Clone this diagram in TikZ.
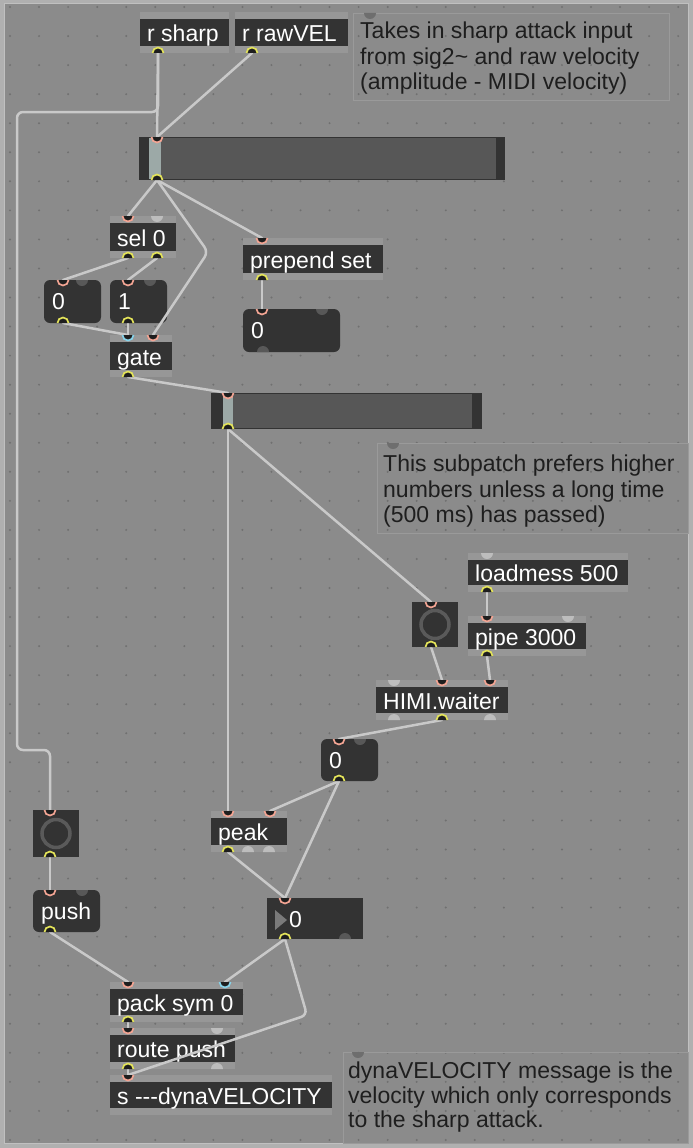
\documentclass[tikz,border=0pt]{standalone}
\usepackage{fontspec}
\newfontfamily\maxf{Liberation Sans}
\definecolor{bgout}{HTML}{B0B0B0}
\definecolor{canvasc}{HTML}{8B8B8B}
\definecolor{dotc}{HTML}{707070}
\definecolor{framec}{HTML}{979797}
\definecolor{boxc}{HTML}{333333}
\definecolor{trackc}{HTML}{575757}
\definecolor{knobc}{HTML}{9CA9A7}
\definecolor{cordc}{HTML}{C9C9C9}
\definecolor{pinkc}{HTML}{F2A493}
\definecolor{yelc}{HTML}{E3E35A}
\definecolor{cyanc}{HTML}{86D3EA}
\definecolor{portdark}{HTML}{1E1E1E}
\definecolor{bumpc}{HTML}{BDBDBD}
\definecolor{notchc}{HTML}{585858}
\definecolor{cmtc}{HTML}{1E1E1E}
\definecolor{cmtframe}{HTML}{9A9A9A}
\definecolor{markc}{HTML}{6E6E6E}
\definecolor{ringc}{HTML}{5A5A5A}
\definecolor{tric}{HTML}{7A7A7A}
\tikzset{
  pics/inport/.style={code={
    \fill[portdark] (-5.5,0) arc[start angle=180,end angle=0,radius=5.5] -- cycle;
    \draw[draw=#1,line width=1.7pt] (-5.5,0) arc[start angle=180,end angle=0,radius=5.5];}},
  pics/outport/.style={code={
    \fill[portdark] (-5.5,0) arc[start angle=180,end angle=360,radius=5.5] -- cycle;
    \draw[draw=#1,line width=1.7pt] (-5.5,0) arc[start angle=180,end angle=360,radius=5.5];}},
  pics/bumpdn/.style={code={\fill[#1] (-6,0) arc[start angle=180,end angle=0,radius=6] -- cycle;}},
  pics/bumpup/.style={code={\fill[#1] (-6,0) arc[start angle=180,end angle=360,radius=6] -- cycle;}},
  objbox/.style={fill=boxc, inner sep=0, outer sep=0},
  msgbox/.style={fill=boxc, rounded corners=6pt, inner sep=0, outer sep=0},
  objtext/.style={font=\maxf\fontsize{23}{25}\selectfont, text=white, inner sep=0, text height=20pt, text depth=2pt},
  cmttext/.style={font=\maxf\fontsize{23}{25}\selectfont, text=cmtc, inner sep=0, anchor=base west},
  cord/.style={draw=cordc, line width=2.5pt, line cap=round, rounded corners=6pt},
}
\newcommand\maxobj[6]{%
  \fill[framec] (#2,#3-7) rectangle (#4,#5+7);
  \node[objbox, anchor=north west, minimum width={#4-#2}, minimum height={#5-#3}] (#1) at (#2,#3) {};
  \node[objtext, anchor=west] (#1-t) at ([xshift=7pt]#1.west) {#6};}
\newcommand\maxmsg[6]{%
  \node[msgbox, anchor=north west, minimum width={#4-#2}, minimum height={#5-#3}] (#1) at (#2,#3) {};
  \node[objtext, anchor=west] (#1-t) at ([xshift=8pt,yshift=1pt]#1.west) {#6};}
\begin{document}
\begin{tikzpicture}[x=1pt,y=-1pt]
\useasboundingbox (0,0) rectangle (693,1148);
\fill[bgout] (0,0) rectangle (693,1148);
\fill[canvasc] (4,3) rectangle (688,1143);
\draw[line width=0.8pt, color=bgout!80!white] (4,3) rectangle (688,1143);
\foreach \i in {0,...,23} \foreach \j in {0,...,39}
  \fill[dotc] ({10+29.05*\i},{7+29.05*\j}) circle[radius=1.1];

% comments
\draw[cmtframe, line width=0.8pt] (353,13) rectangle (669,100);
\draw[cmtframe, line width=0.8pt] (377,443) rectangle (688,533);
\draw[cmtframe, line width=0.8pt] (343,1052) rectangle (688,1143);
\pic at (370,13) {bumpdn=markc};
\pic at (393,443) {bumpdn=markc};
\pic at (358,1052) {bumpdn=markc};
\node[cmttext] (c1a) at (360,39) {Takes in sharp attack input};
\node[cmttext] (c1b) at (360,64) {from sig2\textasciitilde{} and raw velocity};
\node[cmttext] (c1c) at (360,89) {(amplitude - MIDI velocity)};
\node[cmttext] (c2a) at (383,471) {This subpatch prefers higher};
\node[cmttext] (c2b) at (383,497) {numbers unless a long time};
\node[cmttext] (c2c) at (383,522) {(500 ms) has passed)};
\node[cmttext] (c3a) at (348,1078) {dynaVELOCITY message is the};
\node[cmttext] (c3b) at (348,1103) {velocity which only corresponds};
\node[cmttext] (c3c) at (348,1127) {to the sharp attack.};

% objects
\maxobj{rsharp}{140}{19}{229}{46}{r sharp}
\maxobj{rraw}{235}{19}{348}{46}{r rawVEL}
\maxobj{sel}{110}{223}{176}{251}{sel 0}
\maxobj{pre}{243}{245}{383}{273}{prepend set}
\maxobj{gate}{110}{342}{172}{370}{gate}
\maxobj{load}{468}{560}{628}{585}{loadmess 500}
\maxobj{pipe}{468}{623}{586}{649}{pipe 3000}
\maxobj{himi}{376}{687}{508}{713}{HIMI.waiter}
\maxobj{peak}{211}{818}{287}{845}{peak}
\maxobj{pack}{110}{989}{243}{1015}{pack sym 0}
\maxobj{route}{110}{1035}{235}{1062}{route push}
\maxobj{sendv}{110}{1082}{332}{1108}{s -{}-{}-dynaVELOCITY}

% message boxes
\maxmsg{m0}{44}{280}{101}{323}{0}
\maxmsg{m1}{110}{280}{167}{323}{1}
\maxmsg{mset}{243}{309}{340}{352}{0}
\maxmsg{mt}{321}{739}{378}{781}{0}
\maxmsg{push}{33}{890}{100}{932}{push}

% number box
\node[objbox, anchor=north west, minimum width=96, minimum height=41] (num) at (267,898) {};
\fill[tric] (275,910) -- (287,920) -- (275,930) -- cycle;
\node[objtext, anchor=west] (num-t) at (289,918) {0};

% buttons
\node[objbox, anchor=north west, minimum width=46, minimum height=47] (btn1) at (33,810) {};
\draw[ringc, line width=3.5pt] (btn1.center) circle[radius=14];
\node[objbox, anchor=north west, minimum width=46, minimum height=45] (btn2) at (412,602) {};
\draw[ringc, line width=3.5pt] (btn2.center) circle[radius=14];

% sliders
\node[objbox, anchor=north west, minimum width=366, minimum height=43] (sl1) at (139,137) {};
\fill[trackc] (149,138) rectangle (495.5,179);
\fill[knobc] (149,138) rectangle (161,179);
\node[objbox, anchor=north west, minimum width=271, minimum height=36] (sl2) at (211,393) {};
\fill[trackc] (223,394) rectangle (472,428);
\fill[knobc] (223,394) rectangle (233,428);

% port coordinates
\coordinate (rsharp-o) at (158,53);
\coordinate (rraw-o) at (252,53);
\coordinate (sl1-i) at (157,137);
\coordinate (sl1-o) at (157,180);
\coordinate (sel-i) at (128,216);
\coordinate (sel-o1) at (128,258);
\coordinate (sel-o2) at (157,258);
\coordinate (pre-i) at (262,238);
\coordinate (pre-o) at (262,280);
\coordinate (m0-i) at (63,280);
\coordinate (m0-o) at (63,323);
\coordinate (m1-i) at (128,280);
\coordinate (m1-o) at (128,323);
\coordinate (mset-i) at (262,309);
\coordinate (gate-i1) at (128,335);
\coordinate (gate-i2) at (153,335);
\coordinate (gate-o) at (128,377);
\coordinate (sl2-i) at (228,393);
\coordinate (sl2-o) at (228,429);
\coordinate (load-o) at (487,592);
\coordinate (pipe-i) at (487,616);
\coordinate (pipe-o) at (487,656);
\coordinate (btn2-i) at (431,602);
\coordinate (btn2-o) at (431,647);
\coordinate (himi-i2) at (442,680);
\coordinate (himi-i3) at (490,680);
\coordinate (himi-o) at (442,720);
\coordinate (mt-i) at (339,739);
\coordinate (mt-o) at (339,781);
\coordinate (peak-i1) at (228,811);
\coordinate (peak-i2) at (270,811);
\coordinate (peak-o) at (228,852);
\coordinate (num-i) at (285,898);
\coordinate (num-o) at (285,939);
\coordinate (btn1-i) at (50,810);
\coordinate (btn1-o) at (50,857);
\coordinate (push-i) at (50,890);
\coordinate (push-o) at (50,932);
\coordinate (pack-i1) at (128,982);
\coordinate (pack-i2) at (225,982);
\coordinate (pack-o) at (128,1022);
\coordinate (route-i) at (128,1028);
\coordinate (route-o) at (128,1069);
\coordinate (sv-i) at (128,1075);

% cords
\draw[cord] (rsharp-o) -- (sl1-i);
\draw[cord] (rraw-o) -- (sl1-i);
\draw[cord] (rsharp-o) -- (158,112) -- (17,112) -- (17,750) -- (50,750) -- (btn1-i);
\draw[cord] (sl1-o) -- (sel-i);
\draw[cord] (sl1-o) -- (pre-i);
\draw[cord] (sl1-o) -- (208,252) -- (gate-i2);
\draw[cord] (sel-o1) -- (m0-i);
\draw[cord] (sel-o2) -- (m1-i);
\draw[cord] (m0-o) -- (gate-i1);
\draw[cord] (m1-o) -- (gate-i1);
\draw[cord] (pre-o) -- (mset-i);
\draw[cord] (gate-o) -- (sl2-i);
\draw[cord] (sl2-o) -- (peak-i1);
\draw[cord] (sl2-o) -- (btn2-i);
\draw[cord] (load-o) -- (pipe-i);
\draw[cord] (btn2-o) -- (himi-i2);
\draw[cord] (pipe-o) -- (himi-i3);
\draw[cord] (himi-o) -- (mt-i);
\draw[cord] (mt-o) -- (peak-i2);
\draw[cord] (mt-o) -- (num-i);
\draw[cord] (peak-o) -- (num-i);
\draw[cord] (btn1-o) -- (push-i);
\draw[cord] (push-o) -- (pack-i1);
\draw[cord] (num-o) -- (pack-i2);
\draw[cord] (num-o) -- (307,1015) -- (sv-i);
\draw[cord] (pack-o) -- (route-i);
\draw[cord] (route-o) -- (sv-i);

% ports
\foreach \p in {sl1-i,sel-i,pre-i,m0-i,m1-i,mset-i,gate-i2,sl2-i,pipe-i,btn2-i,himi-i2,himi-i3,mt-i,peak-i1,peak-i2,num-i,btn1-i,push-i,pack-i1,route-i,sv-i}
  \pic at (\p) {inport=pinkc};
\pic at (gate-i1) {inport=cyanc};
\pic at (pack-i2) {inport=cyanc};
\foreach \p in {rsharp-o,rraw-o,sl1-o,sel-o1,sel-o2,pre-o,m0-o,m1-o,gate-o,sl2-o,load-o,pipe-o,btn2-o,himi-o,mt-o,peak-o,num-o,btn1-o,push-o,pack-o,route-o}
  \pic at (\p) {outport=yelc};
% unconnected ports
\pic at (157,216) {bumpdn=bumpc};
\pic at (487,553) {bumpdn=bumpc};
\pic at (568,616) {bumpdn=bumpc};
\pic at (394,680) {bumpdn=bumpc};
\pic at (394,720) {bumpup=bumpc};
\pic at (490,720) {bumpup=bumpc};
\pic at (248,852) {bumpup=bumpc};
\pic at (269,852) {bumpup=bumpc};
\pic at (217,1028) {bumpdn=bumpc};
\pic at (217,1069) {bumpup=bumpc};
% message box notches
\pic at (82,280) {bumpdn=notchc};
\pic at (150,280) {bumpdn=notchc};
\pic at (322,309) {bumpdn=notchc};
\pic at (263,352) {bumpup=notchc};
\pic at (360,739) {bumpdn=notchc};
\pic at (82,890) {bumpdn=notchc};
\pic at (345,939) {bumpup=notchc};
\end{tikzpicture}
\end{document}
